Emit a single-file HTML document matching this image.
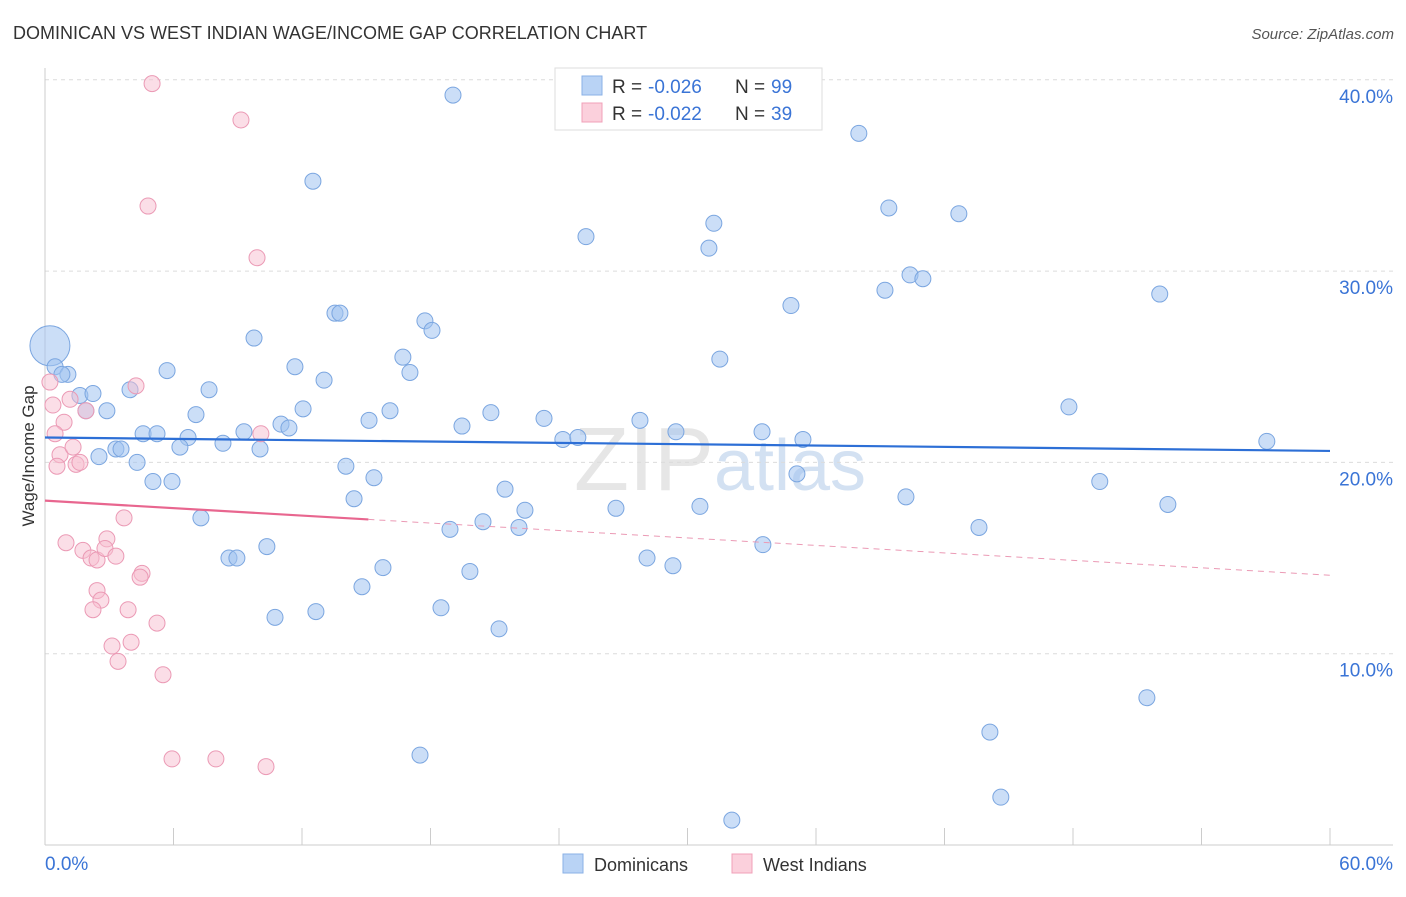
<!DOCTYPE html>
<html><head><meta charset="utf-8"><style>
body{margin:0;background:#fff;font-family:"Liberation Sans",sans-serif;}
svg text{font-family:"Liberation Sans",sans-serif;}
</style></head><body>
<svg id="chart" width="1406" height="892" xmlns="http://www.w3.org/2000/svg">
<text x="13" y="39" font-size="18" fill="#333">DOMINICAN VS WEST INDIAN WAGE/INCOME GAP CORRELATION CHART</text>
<text x="1394" y="39" font-size="15" fill="#555" text-anchor="end" font-style="italic">Source: ZipAtlas.com</text>
<text x="720" y="490" font-size="90" fill="#e6e6e6" text-anchor="middle" font-family="Liberation Serif">ZIP<tspan fill="#d3e1f2" font-family="Liberation Sans" font-size="72">atlas</tspan></text>
<g id="grid"></g><g id="axes"></g><g id="marks"></g>
<text transform="translate(34,456) rotate(-90)" font-size="17" fill="#333" text-anchor="middle">Wage/Income Gap</text>
<g>
<rect x="555" y="68" width="267" height="62" fill="#fff" stroke="#ddd"/>
<rect x="582" y="76" width="20" height="19" fill="#b9d3f5" stroke="#8ab0e6"/>
<rect x="582" y="103" width="20" height="19" fill="#fbd0dc" stroke="#f0a0b8"/>
<text x="612" y="93" font-size="19" fill="#333">R =</text>
<text x="648" y="93" font-size="19" fill="#3a74d6">-0.026</text>
<text x="735" y="93" font-size="19" fill="#333">N =</text>
<text x="771" y="93" font-size="19" fill="#3a74d6">99</text>
<text x="612" y="120" font-size="19" fill="#333">R =</text>
<text x="648" y="120" font-size="19" fill="#3a74d6">-0.022</text>
<text x="735" y="120" font-size="19" fill="#333">N =</text>
<text x="771" y="120" font-size="19" fill="#3a74d6">39</text>
</g>
<g>
<rect x="563" y="854" width="20" height="19" fill="#b9d3f5" stroke="#8ab0e6"/>
<text x="594" y="871" font-size="18" fill="#333">Dominicans</text>
<rect x="732" y="854" width="20" height="19" fill="#fbd0dc" stroke="#f0a0b8"/>
<text x="763" y="871" font-size="18" fill="#333">West Indians</text>
</g>
</svg>
<script>
const yTicks=[10,20,30,40];
const yTickLabels=["10.0%","20.0%","30.0%","40.0%"];
const xTickLabels=["0.0%","60.0%"];
const domX=[0.23,0.47,1.07,0.79,1.63,2.24,1.91,2.89,3.97,2.52,3.31,3.55,4.30,4.58,5.23,5.04,5.93,5.70,6.68,6.30,7.05,7.66,8.31,7.28,8.59,8.96,9.76,9.29,10.04,10.36,10.74,11.02,11.39,11.67,12.05,12.51,12.65,13.03,13.54,13.77,14.05,14.43,14.80,15.13,15.36,15.78,16.11,16.71,17.04,17.74,18.07,17.51,18.49,18.91,19.05,19.47,19.84,20.45,20.82,21.20,21.48,22.13,22.41,23.30,24.18,24.88,25.26,26.66,27.78,28.11,29.46,29.32,30.58,31.0,31.23,31.51,32.07,33.48,33.52,34.83,35.11,35.39,38.0,39.22,39.4,40.2,40.39,40.99,42.67,43.61,44.12,44.63,47.81,49.25,51.45,52.05,52.43,57.05];
const domY=[26.1,25.0,24.6,24.6,23.5,23.6,22.7,22.7,23.8,20.3,20.7,20.7,20.0,21.5,21.5,19.0,19.0,24.8,21.3,20.8,22.5,23.8,21.0,17.1,15.0,15.0,26.5,21.6,20.7,15.6,11.9,22.0,21.8,25.0,22.8,34.7,12.2,24.3,27.8,27.8,19.8,18.1,13.5,22.2,19.2,14.5,22.7,25.5,24.7,27.4,26.9,4.7,12.4,16.5,39.2,21.9,14.3,16.9,22.6,11.3,18.6,16.6,17.5,22.3,21.2,21.3,31.8,17.6,22.2,15.0,21.6,14.6,17.7,31.2,32.5,25.4,1.3,21.6,15.7,28.2,19.4,21.2,37.2,29.0,33.3,18.2,29.8,29.6,33.0,16.6,5.9,2.5,22.9,19.0,7.7,28.8,17.8,21.1];
const wiX=[5.0,9.15,4.81,9.9,0.23,0.37,1.17,0.89,0.47,4.25,1.91,10.08,0.70,1.31,0.56,1.45,1.63,3.69,0.98,1.77,2.15,2.43,2.89,2.80,3.31,4.53,4.44,2.43,2.61,2.24,3.88,5.23,3.13,4.02,3.41,5.51,5.93,7.98,10.32];
const wiY=[39.8,37.9,33.4,30.7,24.2,23.0,23.3,22.1,21.5,24.0,22.7,21.5,20.4,20.8,19.8,19.9,20.0,17.1,15.8,15.4,15.0,14.9,16.0,15.5,15.1,14.2,14.0,13.3,12.8,12.3,12.3,11.6,10.4,10.6,9.6,8.9,4.5,4.5,4.1];
const domTrend=[21.3,20.6];
const wiTrend=[18.0,14.1];
const wiSolidEnd=15.1;
const NS="http://www.w3.org/2000/svg";
const X0=45,X1=1330,Y0=845,PXPER=19.13;
const sx=v=>X0+v*(X1-X0)/60;
const sy=v=>Y0-v*PXPER;
function mk(tag,attrs,parent){const e=document.createElementNS(NS,tag);for(const k in attrs)e.setAttribute(k,attrs[k]);document.getElementById(parent).appendChild(e);return e;}
yTicks.forEach((t,i)=>{
 const g=mk('line',{x1:45,x2:1393,y1:sy(t),y2:sy(t),stroke:'#dcdcdc','stroke-dasharray':'4,4'},'grid');
 
 
 const l=mk('text',{x:1393,y:sy(t)+23,'font-size':19,fill:'#3a74d6','text-anchor':'end'},'axes');
 l.textContent=yTickLabels[i];
 
 
});
const ax=mk('line',{x1:45,x2:45,y1:68,y2:845,stroke:'#ccc'},'axes');


const bx=mk('line',{x1:45,x2:1393,y1:845,y2:845,stroke:'#ccc'},'axes');


for(let i=0;i<=10;i++){
 const t=mk('line',{x1:sx(i*6),x2:sx(i*6),y1:828,y2:845,stroke:'#ccc'},'axes');
 
 
}
[[0,'start',45],[60,'end',1393]].forEach((d,i)=>{
 const l=mk('text',{x:d[2],y:870,'font-size':19,fill:'#3a74d6','text-anchor':d[1]},'axes');
 l.textContent=xTickLabels[i];
 
 
});
domX.forEach((x,i)=>{
 const c=mk('circle',{cx:sx(x),cy:sy(domY[i]),r:i===0?20:8,fill:'rgba(160,195,240,0.55)',stroke:'#7ba6e0','stroke-width':1},'marks');
 
 
});
wiX.forEach((x,i)=>{
 const c=mk('circle',{cx:sx(x),cy:sy(wiY[i]),r:8,fill:'rgba(248,190,208,0.5)',stroke:'#eb9ab5','stroke-width':1},'marks');
 
 
});
const bl=mk('line',{x1:sx(0),y1:sy(domTrend[0]),x2:sx(60),y2:sy(domTrend[1]),stroke:'#2d6fd6','stroke-width':2.2},'marks');


const wAt=x=>wiTrend[0]+(wiTrend[1]-wiTrend[0])*x/60;
const pl=mk('line',{x1:sx(0),y1:sy(wAt(0)),x2:sx(wiSolidEnd),y2:sy(wAt(wiSolidEnd)),stroke:'#e8668f','stroke-width':2.2},'marks');


const pd=mk('line',{x1:sx(wiSolidEnd),y1:sy(wAt(wiSolidEnd)),x2:sx(60),y2:sy(wAt(60)),stroke:'#eb9ab5','stroke-width':1,'stroke-dasharray':'6,5'},'marks');


</script>
</body></html>
